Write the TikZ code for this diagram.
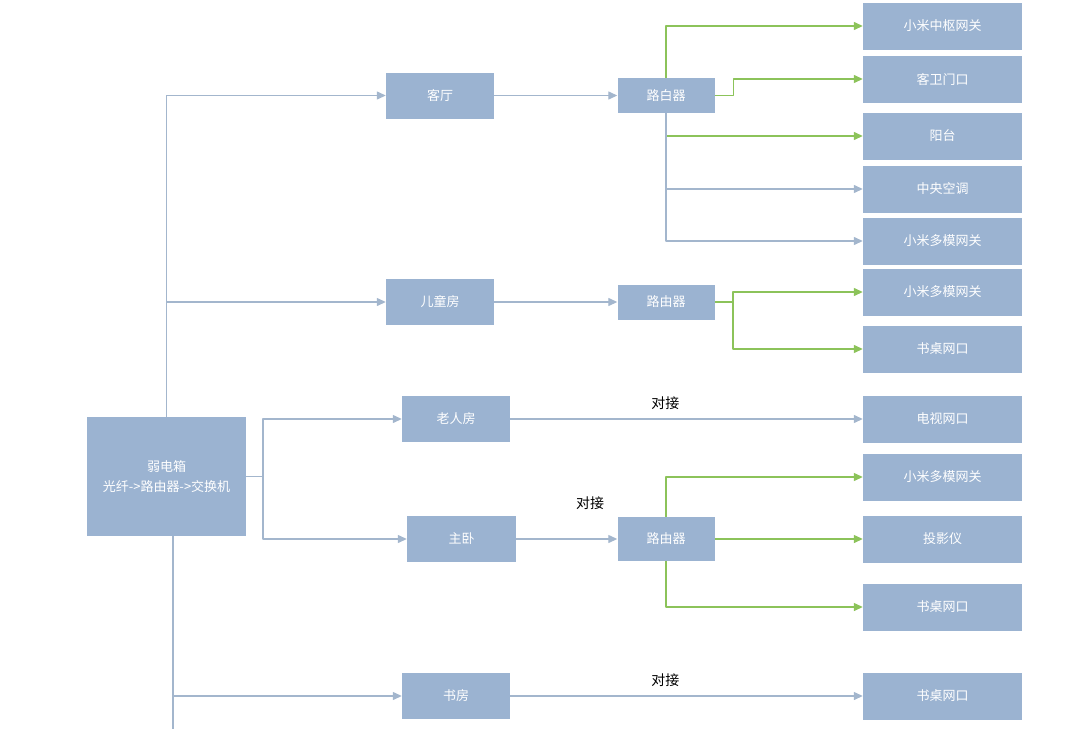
\documentclass[tikz,border=0pt]{standalone}
\usepackage{fontspec}
\newfontfamily\cjk{Noto Sans CJK SC}
\usetikzlibrary{arrows.meta}
\definecolor{boxblue}{HTML}{9BB3D1}
\definecolor{lineblue}{HTML}{A3B6CD}
\definecolor{linegreen}{HTML}{8CC35A}
\begin{document}
\begin{tikzpicture}[x=1pt,y=-1pt,>={Triangle[length=9pt,width=8pt]}, font=\cjk\fontsize{13}{20}\selectfont, line join=round]
		\tikzset{box/.style={fill=boxblue, text=white, inner sep=0pt, minimum height=46pt},
			room/.style={box, minimum width=108pt},
			router/.style={box, minimum width=97pt, minimum height=35pt},
			port/.style={box, minimum width=159pt, minimum height=47pt},
			blueline/.style={draw=lineblue, line width=1.3pt},
			greenline/.style={draw=linegreen, line width=1.3pt},
			label style/.style={font=\cjk\fontsize{14}{16}\selectfont, text=black}}
		\def \px{942.5}
		\useasboundingbox (0,0) rectangle (1080,729);
		% weak current box and rooms
		\node[box, minimum width=159pt, minimum height=119pt, align=center] (box) at (166.5,476.5) {弱电箱\\光纤->路由器->交换机};
		\node[room] (keting) at (440,95.5) {客厅};
		\node[room] (ertong) at (440,302) {儿童房};
		\node[room] (laoren) at (456,419) {老人房};
		\node[room, minimum width=109pt] (zhuwo) at (461.5,539) {主卧};
		\node[room] (shufang) at (456,696) {书房};
		% routers
		\node[router] (r1) at (666,95.5) {路白器};
		\node[router] (r2) at (666,302) {路由器};
		\node[router, minimum height=44pt] (r3) at (666,539) {路由器};
		% ports
		\node[port] (p1) at (\px,26) {小米中枢网关};
		\node[port] (p2) at (\px,79) {客卫门口};
		\node[port] (p3) at (\px,136) {阳台};
		\node[port] (p4) at (\px,189) {中央空调};
		\node[port] (p5) at (\px,241) {小米多模网关};
		\node[port] (p6) at (\px,292) {小米多模网关};
		\node[port] (p7) at (\px,349) {书桌网口};
		\node[port] (p8) at (\px,419) {电视网口};
		\node[port] (p9) at (\px,477) {小米多模网关};
		\node[port] (p10) at (\px,539) {投影仪};
		\node[port] (p11) at (\px,607) {书桌网口};
		\node[port] (p12) at (\px,696) {书桌网口};
		% trunk lines
		\coordinate (split) at (263,476.5);
		\coordinate (down) at (173,536);
		\coordinate (bottomend) at (173,729);
		\coordinate (r2split) at (733,302);
		\draw[blueline,->] (box.north) |- (keting);
		\draw[blueline,->] (box.north) |- (ertong);
		\draw[blueline] (box.east) -- (split);
		\draw[blueline,->] (split) |- (laoren);
		\draw[blueline,->] (split) |- (zhuwo);
		\draw[blueline] (down) -- (bottomend);
		\draw[blueline,->] (down) |- (shufang);
		\draw[blueline,->] (keting) -- (r1);
		\draw[blueline,->] (ertong) -- (r2);
		\draw[blueline,->] (zhuwo) -- (r3);
		\draw[blueline,->] (laoren) -- (p8) node[label style, pos=0.44, above=5pt] (dj1) {对接};
		\draw[blueline,->] (shufang) -- (p12) node[label style, pos=0.44, above=5pt] (dj3) {对接};
		\node[label style] (dj2) at (590,503) {对接};
		% router outlets
		\draw[greenline,->] (r1.north) |- (p1);
		\draw[greenline,->] (r1.east) -- ++(19,0) |- (p2);
		\draw[greenline,->] (r1.south) |- (p3);
		\draw[blueline,->] (r1.south) |- (p4);
		\draw[blueline,->] (r1.south) |- (p5);
		\draw[greenline] (r2.east) -- (r2split);
		\draw[greenline,->] (r2split) |- (p6);
		\draw[greenline,->] (r2split) |- (p7);
		\draw[greenline,->] (r3.north) |- (p9);
		\draw[greenline,->] (r3) -- (p10);
		\draw[greenline,->] (r3.south) |- (p11);
\end{tikzpicture}
\end{document}
